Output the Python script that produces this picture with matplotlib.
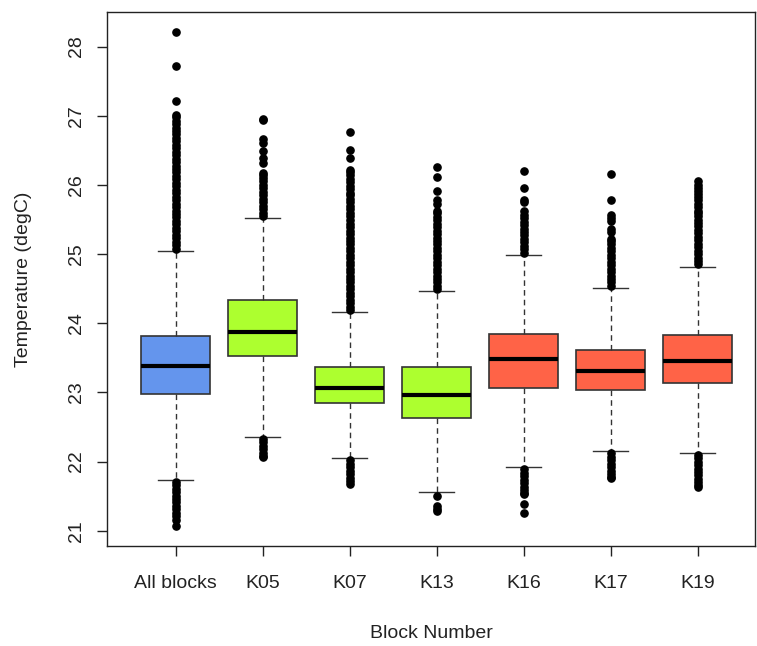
import matplotlib
matplotlib.use("Agg")
import matplotlib.pyplot as plt

plt.rcParams["font.family"] = ["Liberation Sans", "DejaVu Sans"]

# Data
blocks = ["All blocks", "K05", "K07", "K13", "K16", "K17", "K19"]
colors = ["#6495ED", "#ADFF2F", "#ADFF2F", "#ADFF2F", "#FF6347", "#FF6347", "#FF6347"]

q1 = [22.98, 23.53, 22.85, 22.63, 23.07, 23.03, 23.14]
median = [23.38, 23.88, 23.07, 22.96, 23.48, 23.31, 23.46]
q3 = [23.81, 24.33, 23.37, 23.37, 23.85, 23.62, 23.83]
whisker_low = [21.74, 22.36, 22.05, 21.56, 21.92, 22.15, 22.13]
whisker_high = [25.05, 25.52, 24.16, 24.46, 24.99, 24.51, 24.82]

fliers_all = [25.08, 25.13, 25.18, 25.23, 25.28, 25.33, 25.38, 25.43, 25.48, 25.53,
              25.58, 25.63, 25.68, 25.73, 25.78, 25.83, 25.88, 25.93, 25.98, 26.03,
              26.08, 26.13, 26.18, 26.23, 26.28, 26.33, 26.38, 26.43, 26.48, 26.53,
              26.58, 26.63, 26.68, 26.73, 26.78, 26.83, 26.88, 26.93, 26.98, 27.01,
              27.22, 27.72, 28.21,
              21.71, 21.66, 21.61, 21.56, 21.51, 21.46, 21.41, 21.36, 21.31, 21.26,
              21.21, 21.16, 21.07]
fliers_k05 = [25.55, 25.60, 25.65, 25.70, 25.75, 25.80, 25.85, 25.90, 25.95, 26.00,
              26.05, 26.10, 26.15, 26.17, 26.32, 26.39, 26.49, 26.61, 26.66, 26.94,
              26.96,
              22.33, 22.28, 22.23, 22.18, 22.13, 22.08, 22.06]
fliers_k07 = [24.19, 24.24, 24.29, 24.34, 24.39, 24.44, 24.49, 24.54, 24.59, 24.64,
              24.69, 24.74, 24.79, 24.84, 24.89, 24.94, 24.99, 25.04, 25.09, 25.14,
              25.19, 25.24, 25.29, 25.34, 25.39, 25.44, 25.49, 25.55, 25.60, 25.65,
              25.70, 25.75, 25.80, 25.85, 25.88, 25.94, 25.99, 26.04, 26.09, 26.14,
              26.19, 26.22, 26.39, 26.51, 26.77,
              22.02, 21.97, 21.92, 21.87, 21.82, 21.77, 21.72, 21.68]
fliers_k13 = [24.49, 24.54, 24.59, 24.64, 24.69, 24.74, 24.79, 24.84, 24.89, 24.94,
              24.99, 25.04, 25.09, 25.14, 25.19, 25.24, 25.29, 25.34, 25.39, 25.44,
              25.49, 25.54, 25.59, 25.63, 25.73, 25.78, 25.91, 26.11, 26.26,
              21.50, 21.36, 21.31, 21.28]
fliers_k16 = [25.02, 25.07, 25.12, 25.17, 25.22, 25.27, 25.32, 25.37, 25.42, 25.47,
              25.52, 25.57, 25.63, 25.76, 25.78, 25.95, 26.20,
              21.89, 21.84, 21.79, 21.74, 21.69, 21.64, 21.59, 21.55, 21.53, 21.39,
              21.26]
fliers_k17 = [24.54, 24.59, 24.64, 24.69, 24.74, 24.79, 24.84, 24.89, 24.94, 24.99,
              25.04, 25.09, 25.14, 25.19, 25.22, 25.32, 25.36, 25.48, 25.52, 25.56,
              25.78, 26.16,
              22.12, 22.07, 22.02, 21.97, 21.92, 21.87, 21.82, 21.78, 21.76]
fliers_k19 = [24.85, 24.90, 24.95, 25.00, 25.05, 25.10, 25.15, 25.20, 25.25, 25.30,
              25.35, 25.40, 25.45, 25.50, 25.55, 25.60, 25.63, 25.68, 25.73, 25.78,
              25.82, 25.87, 25.91, 25.95, 26.00, 26.06,
              22.10, 22.05, 22.00, 21.95, 21.90, 21.85, 21.80, 21.75, 21.70, 21.66,
              21.64]
fliers = [fliers_all, fliers_k05, fliers_k07, fliers_k13, fliers_k16, fliers_k17, fliers_k19]

y_ticks = [21, 22, 23, 24, 25, 26, 27, 28]

# Build the stats dicts for bxp
stats = []
for i, name in enumerate(blocks):
    stats.append({
        "label": name,
        "q1": q1[i],
        "med": median[i],
        "q3": q3[i],
        "whislo": whisker_low[i],
        "whishi": whisker_high[i],
        "fliers": fliers[i],
    })

fig = plt.figure(figsize=(7.57, 6.46), dpi=100)
ax = fig.add_axes([0.1413, 0.1548, 0.8560, 0.8266])

positions = list(range(1, len(blocks) + 1))
bp = ax.bxp(
    stats,
    positions=positions,
    widths=0.8,
    patch_artist=True,
    boxprops=dict(edgecolor="#333333", linewidth=1.2),
    medianprops=dict(color="black", linewidth=3.0, solid_capstyle="butt"),
    whiskerprops=dict(color="#333333", linewidth=1.0, linestyle=(0, (4, 3))),
    capprops=dict(color="#333333", linewidth=1.0),
    capwidths=0.4,
    flierprops=dict(marker="o", markerfacecolor="black", markeredgecolor="black",
                    markersize=5.2, linestyle="none"),
)
for patch, c in zip(bp["boxes"], colors):
    patch.set_facecolor(c)

ax.set_xlim(0.21, 7.66)
ax.set_ylim(20.78, 28.50)
ax.set_yticks(y_ticks)
ax.set_yticklabels([str(t) for t in y_ticks], rotation=90, va="center")
ax.set_xticks(positions)
ax.set_xticklabels(blocks)

ax.tick_params(axis="both", direction="out", length=7, width=1.0, color="#222222",
               labelsize=14, labelcolor="#222222")
ax.tick_params(axis="x", pad=14)
ax.tick_params(axis="y", pad=9)
for side in ["left", "bottom", "top", "right"]:
    ax.spines[side].set_color("#222222")
    ax.spines[side].set_linewidth(1.0)

ax.set_xlabel("Block Number", fontsize=14, color="#222222")
ax.set_ylabel("Temperature (degC)", fontsize=14, color="#222222")
ax.xaxis.set_label_coords(0.5, -0.148)
ax.yaxis.set_label_coords(-0.115, 0.5)

fig.savefig("out.png", dpi=100)
plt.close(fig)
